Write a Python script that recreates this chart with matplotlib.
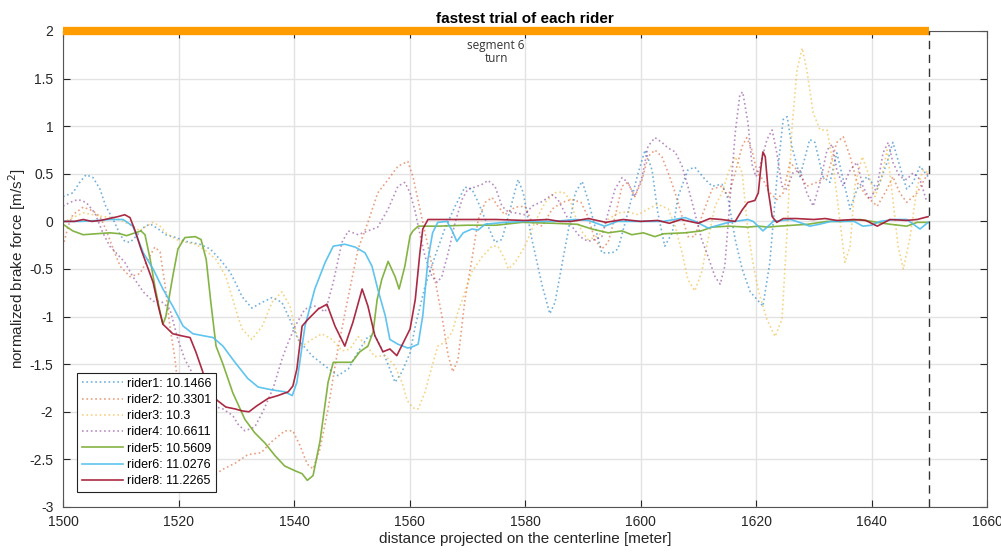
import matplotlib
matplotlib.use("Agg")
import matplotlib.pyplot as plt

plt.rcParams['font.family'] = ['Liberation Sans', 'DejaVu Sans']

# ---------------- data ----------------
labels = ["rider1: 10.1466", "rider2: 10.3301", "rider3: 10.3", "rider4: 10.6611",
          "rider5: 10.5609", "rider6: 11.0276", "rider8: 11.2265"]

rider1 = [(1500,0.26),(1501.7,0.30),(1502.9,0.41),(1504,0.49),(1505.2,0.46),(1506.4,0.34),(1507.4,0.16),
          (1508.7,0.02),(1509.9,-0.14),(1510.7,-0.21),(1511.6,-0.22),(1512.6,-0.16),(1514.2,-0.05),(1515.2,-0.03),
          (1516.5,-0.08),(1517.8,-0.14),(1519.6,-0.17),(1521.3,-0.21),(1523.7,-0.24),(1525.5,-0.29),(1527.2,-0.40),
          (1528.9,-0.53),(1530,-0.66),(1531,-0.79),(1532.7,-0.91),(1534.5,-0.85),(1536.2,-0.80),(1537.9,-0.85),
          (1539.3,-1.03),(1540.7,-1.24),(1543.1,-1.41),(1545.4,-1.52),(1547.6,-1.62),(1549.4,-1.55),(1551.1,-1.37),
          (1552.8,-1.21),(1554,-1.20),(1555.2,-1.34),(1556.6,-1.55),(1557.5,-1.69),(1558.7,-1.58),(1560.1,-1.38),
          (1561,-1.10),(1562.7,-0.68),(1564.4,-0.37),(1566.1,-0.08),(1567.9,0.16),(1569.6,0.36),(1570.8,0.34),
          (1571.9,0.20),(1573.6,-0.05),(1574.8,-0.22),(1576,-0.19),(1577.1,0.05),(1578.8,0.44),(1579.7,0.30),
          (1581.2,-0.19),(1583,-0.68),(1584.3,-0.97),(1585.2,-0.85),(1586.9,-0.29),(1588.7,0.30),(1589.9,0.42),
          (1590.9,0.23),(1592.1,-0.05),(1593.3,-0.33),(1595.1,-0.33),(1596.1,-0.29),(1597.8,0.09),(1599.6,0.51),
          (1600.8,0.75),(1602,0.54),(1603,0.09),(1604.2,-0.26),(1605.5,-0.12),(1606.5,0.26),(1608.2,0.54),
          (1609.4,0.57),(1611.2,0.44),(1612.4,0.37),(1614.1,0.39),(1615.2,0.23),(1616.4,-0.19),(1617.6,-0.50),
          (1619,-0.74),(1621.2,-0.89),(1622.4,-0.43),(1623.6,0.44),(1624.7,1.07),(1625.4,1.10),(1626.2,0.79),
          (1627.6,0.47),(1629.3,0.86),(1630.2,0.83),(1631.6,0.47),(1632.8,0.41),(1634,0.72),(1635.1,0.44),
          (1636.3,0.13),(1637.5,0.34),(1639.2,0.47),(1641,0.34),(1642.7,0.62),(1643.7,0.83),(1644.9,0.58),
          (1646.1,0.34),(1647.2,0.41),(1648.4,0.58),(1649.8,0.47)]

rider2 = [(1500,-0.26),(1500.9,-0.05),(1501.7,0.07),(1503.5,0.15),(1505.2,0.11),(1506.4,0.05),(1507.4,-0.08),
          (1508.7,-0.29),(1509.9,-0.47),(1511.6,-0.58),(1513.3,-0.55),(1514.7,-0.40),(1515.9,-0.27),(1516.8,-0.32),
          (1517.7,-0.68),(1518.5,-1.10),(1519.4,-1.45),(1520.4,-2.0),(1521.5,-2.5),(1522.8,-2.8),(1524.3,-2.78),
          (1526,-2.67),(1527.8,-2.60),(1529.8,-2.54),(1532,-2.45),(1534.3,-2.43),(1536.2,-2.31),(1538.4,-2.20),
          (1539.8,-2.20),(1541,-2.35),(1542.3,-2.55),(1543.3,-2.60),(1544.5,-2.39),(1545.9,-1.97),(1547.6,-1.34),
          (1549.4,-0.79),(1551.1,-0.29),(1552.8,-0.01),(1554.5,0.30),(1556.3,0.44),(1558,0.58),(1559.7,0.63),
          (1560.6,0.47),(1561.8,0.13),(1563.2,-0.26),(1564.4,-0.61),(1565.6,-0.99),(1566.7,-1.41),(1567.5,-1.58),
          (1568.4,-1.45),(1569.6,-0.82),(1570.8,-0.40),(1571.9,0.02),(1573.1,0.20),(1574.3,0.25),(1575.3,0.16),
          (1576.5,0.07),(1578.3,0.15),(1580,0.16),(1581.2,-0.01),(1583,-0.05),(1584.7,0.13),(1586.4,0.20),
          (1588.1,0.23),(1589.7,0.20),(1590.9,0.05),(1592.1,-0.19),(1593.3,-0.29),(1594.4,-0.22),(1595.6,0.05),
          (1596.8,0.37),(1597.8,0.41),(1599,0.26),(1600.3,0.44),(1601.3,0.68),(1602.5,0.75),(1603.7,0.68),
          (1604.8,0.51),(1606,0.30),(1607.2,0.05),(1608.2,-0.16),(1609.4,-0.16),(1610.6,0.05),(1612.4,0.34),
          (1614.1,0.37),(1615.2,0.26),(1616.4,0.51),(1617.6,0.79),(1618.4,0.88),(1619.3,0.75),(1620.2,0.51),
          (1621.2,0.44),(1622.4,0.30),(1623.6,0.23),(1624.7,0.30),(1625.9,0.62),(1627.1,0.54),(1628.8,0.37),
          (1630.5,0.41),(1632.3,0.47),(1634,0.83),(1635.1,0.89),(1636.3,0.68),(1637.5,0.41),(1639.2,0.26),
          (1641,0.16),(1642.7,0.34),(1643.7,0.47),(1644.9,0.30),(1646.1,0.20),(1647.9,0.30),(1649.8,0.51)]

rider3 = [(1500,-0.01),(1501.7,0.04),(1503.5,0.09),(1505.2,0.07),(1506.9,0.05),(1508.7,0.04),(1510.4,0.0),
          (1512.1,-0.05),(1513.3,-0.10),(1514.4,-0.05),(1515.6,-0.01),(1516.8,-0.05),(1517.8,-0.12),(1519.6,-0.19),
          (1521.3,-0.22),(1523,-0.24),(1524.8,-0.31),(1526.5,-0.40),(1528.2,-0.58),(1529.4,-0.82),(1530.3,-1.0),
          (1531,-1.13),(1532.7,-1.24),(1534.5,-1.10),(1536.2,-0.85),(1537.9,-0.74),(1539.3,-0.89),(1540.5,-1.20),
          (1541.4,-1.31),(1543.1,-1.24),(1544.8,-1.18),(1546.6,-1.24),(1548.3,-1.36),(1549.7,-1.34),(1551.1,-1.21),
          (1552.6,-1.31),(1554,-1.42),(1555.8,-1.41),(1557.5,-1.52),(1558.7,-1.69),(1559.6,-1.88),(1560.6,-1.96),
          (1561.5,-1.97),(1562.7,-1.79),(1563.9,-1.52),(1564.9,-1.31),(1566.1,-1.27),(1567.4,-1.16),(1568.4,-0.95),
          (1569.6,-0.74),(1570.8,-0.53),(1572.6,-0.37),(1574.3,-0.26),(1575.3,-0.26),(1576.5,-0.40),(1577.1,-0.50),
          (1578.3,-0.43),(1580,-0.26),(1581.7,-0.01),(1583.5,0.20),(1585.2,0.30),(1586.6,0.31),(1587.8,0.23),
          (1589,0.0),(1590,-0.12),(1590.9,-0.19),(1592.1,-0.17),(1593.3,-0.12),(1594.4,0.02),(1596.1,0.09),
          (1597.8,0.10),(1599.6,0.07),(1601.3,0.13),(1603,0.18),(1604.8,0.13),(1606,-0.05),(1607.2,-0.33),
          (1608.2,-0.61),(1609.4,-0.73),(1610.6,-0.53),(1611.7,-0.19),(1612.9,0.16),(1614.1,0.30),(1615.2,0.51),
          (1616.4,0.68),(1617.6,0.51),(1618.6,-0.10),(1619.5,-0.45),(1620.5,-0.75),(1621.9,-1.03),(1623.3,-1.21),
          (1624.5,-1.03),(1625.4,-0.08),(1626.2,0.96),(1627.1,1.59),(1628,1.82),(1628.8,1.59),(1629.9,1.14),
          (1631.1,0.96),(1632.3,0.96),(1633.3,0.62),(1634.5,0.02),(1635.4,-0.43),(1636.3,-0.26),(1637.1,0.37),
          (1638.4,0.68),(1639.4,0.51),(1640.6,0.26),(1641.8,0.47),(1642.7,0.75),(1643.5,0.34),(1644.6,-0.26),
          (1645.5,-0.50),(1646.7,-0.16),(1647.9,0.37),(1649,0.54),(1649.8,0.51)]

rider4 = [(1500,0.16),(1501.2,0.20),(1502.6,0.23),(1504,0.20),(1505.5,0.09),(1506.9,-0.12),(1508.1,-0.26),
          (1509.2,-0.33),(1510.7,-0.43),(1512.1,-0.58),(1513.9,-0.74),(1515.6,-0.84),(1517,-0.84),(1518.5,-0.92),
          (1519.9,-1.24),(1521.1,-1.45),(1522.9,-1.65),(1524.2,-1.83),(1526,-1.94),(1527.7,-1.97),(1529.4,-2.04),
          (1530.3,-2.13),(1531.5,-2.20),(1533.2,-2.16),(1534.6,-2.0),(1536.4,-1.75),(1537.9,-1.45),(1538.8,-1.30),
          (1540.2,-1.10),(1541.9,-0.92),(1543.6,-0.89),(1545.4,-0.95),(1546.8,-0.64),(1548.3,-0.22),(1549.4,-0.10),
          (1551.1,-0.14),(1552.8,-0.10),(1554.5,-0.06),(1556.3,0.13),(1558,0.37),(1559.2,0.41),(1560.1,0.30),
          (1561,0.10),(1561.5,-0.05),(1562.7,-0.37),(1563.9,-0.58),(1564.8,-0.64),(1565.6,-0.58),(1566.7,-0.33),
          (1567.9,-0.01),(1569.1,0.23),(1570.1,0.34),(1571.3,0.36),(1572.6,0.39),(1573.6,0.43),(1574.8,0.37),
          (1576,0.16),(1577.1,0.10),(1578.3,0.09),(1580,0.07),(1581.2,0.16),(1583,0.21),(1584.7,0.28),
          (1585.7,0.23),(1586.9,0.09),(1588.1,-0.05),(1589.5,-0.16),(1590.9,-0.21),(1592.1,-0.19),(1593.3,-0.16),
          (1594.4,0.09),(1595.6,0.34),(1596.8,0.46),(1597.8,0.41),(1599,0.26),(1600.3,0.47),(1601.3,0.79),
          (1602.5,0.88),(1603.7,0.83),(1604.8,0.77),(1606,0.73),(1607.2,0.58),(1608.2,0.37),(1609.4,0.09),
          (1610.6,-0.19),(1611.7,-0.37),(1612.9,-0.58),(1613.8,-0.66),(1614.6,-0.47),(1615.5,0.23),(1616.4,0.93),
          (1617.2,1.33),(1617.7,1.36),(1618.6,1.04),(1619.3,0.60),(1620,0.47),(1620.7,0.58),(1621.9,0.86),
          (1622.8,0.96),(1623.6,0.72),(1624.5,0.37),(1625.3,0.34),(1626.4,0.51),(1627.6,0.54),(1628.8,0.30),
          (1629.9,0.16),(1631.1,0.41),(1632.3,0.75),(1633.2,0.81),(1634,0.54),(1635.1,0.37),(1636.3,0.54),
          (1637.5,0.62),(1638.5,0.37),(1639.7,0.23),(1641,0.37),(1642,0.72),(1642.9,0.83),(1643.7,0.62),
          (1644.9,0.47),(1646.1,0.44),(1647.2,0.51),(1648.4,0.44),(1649.6,0.20)]

rider5 = [(1500,-0.03),(1501.7,-0.10),(1503.5,-0.14),(1505.7,-0.13),(1508.1,-0.12),(1509.9,-0.13),(1511,-0.15),
          (1512.5,-0.12),(1513.5,-0.10),(1514.2,-0.14),(1515.1,-0.40),(1515.9,-0.68),(1516.8,-0.95),(1517.3,-1.08),
          (1517.8,-1.0),(1519,-0.58),(1519.9,-0.29),(1521.1,-0.17),(1522.9,-0.16),(1523.9,-0.19),(1524.8,-0.40),
          (1525.6,-0.85),(1526.5,-1.31),(1527.7,-1.50),(1529.4,-1.80),(1530.3,-1.92),(1531.5,-2.08),(1533.2,-2.22),
          (1535,-2.33),(1536.7,-2.46),(1538.4,-2.57),(1540.2,-2.62),(1541.4,-2.65),(1542.3,-2.72),(1543.3,-2.67),
          (1544.5,-2.31),(1545.9,-1.69),(1546.8,-1.48),(1548.8,-1.48),(1550,-1.48),(1551.4,-1.37),(1552.8,-1.31),
          (1553.7,-1.16),(1554.4,-0.82),(1555.2,-0.61),(1556.3,-0.42),(1557.5,-0.58),(1558.2,-0.71),(1559.2,-0.47),
          (1560.1,-0.15),(1560.6,-0.10),(1561.5,-0.05),(1565,-0.05),(1570,-0.04),(1575,-0.04),(1579.5,-0.01),
          (1585,-0.02),(1589,-0.03),(1591.6,-0.08),(1594.4,-0.12),(1596.8,-0.10),(1598.5,-0.14),(1600.5,-0.12),
          (1602.5,-0.16),(1604,-0.13),(1607.7,-0.12),(1610.5,-0.10),(1612.4,-0.06),(1615.2,-0.05),(1618.6,-0.06),
          (1620.5,-0.05),(1622,-0.06),(1624,-0.05),(1629,-0.03),(1632.3,0.0),(1635,0.0),(1638,0.02),(1641,-0.01),
          (1643.2,-0.03),(1646.1,-0.05),(1647.9,-0.01),(1649.8,-0.01)]

rider6 = [(1500,0.0),(1503,0.0),(1506,0.01),(1508,0.02),(1510.4,0.02),(1512.1,-0.05),(1513.9,-0.33),
          (1515.6,-0.50),(1517.3,-0.71),(1519,-0.89),(1520.8,-1.10),(1522.5,-1.18),(1524.2,-1.20),(1526,-1.22),
          (1527.7,-1.31),(1529.4,-1.45),(1530.3,-1.52),(1532,-1.65),(1533.8,-1.74),(1536.2,-1.77),(1538.4,-1.79),
          (1539.7,-1.83),(1540.5,-1.69),(1541.9,-1.10),(1543.6,-0.71),(1545.4,-0.43),(1546.8,-0.26),(1548.8,-0.24),
          (1550.6,-0.27),(1552.3,-0.33),(1553.5,-0.47),(1554.5,-0.71),(1555.8,-0.99),(1556.6,-1.24),(1558,-1.29),
          (1559.7,-1.33),(1560.4,-1.32),(1561.5,-1.29),(1562.3,-0.99),(1563.2,-0.40),(1564,-0.12),(1564.9,-0.01),
          (1566.5,0.0),(1567.4,-0.10),(1568.2,-0.21),(1569.3,-0.12),(1570.8,-0.08),(1571.9,-0.09),(1573.1,-0.03),
          (1576.5,-0.01),(1580,0.0),(1585,0.0),(1588.7,0.02),(1591,0.01),(1593.8,-0.05),(1596,0.0),(1600,0.0),
          (1604,0.0),(1607.7,0.04),(1609.5,0.0),(1611.7,-0.07),(1613.5,-0.04),(1615.2,-0.01),(1618.6,0.02),
          (1619.5,0.0),(1621.2,-0.10),(1623,0.0),(1626,0.02),(1628,-0.02),(1629.3,-0.05),(1631,-0.03),(1633,0.0),
          (1637,0.0),(1638.5,-0.05),(1640,-0.04),(1641.5,0.0),(1644,0.02),(1646.1,0.02),(1648.4,-0.08),
          (1649.8,-0.01)]

rider8 = [(1500,0.0),(1502,0.0),(1503.5,0.02),(1505,0.0),(1506.5,0.01),(1508,0.03),(1509.5,0.05),
          (1510.7,0.07),(1511.6,0.04),(1512.5,-0.10),(1513.5,-0.29),(1515.6,-0.64),(1516.5,-0.89),(1517.3,-1.08),
          (1519,-1.18),(1520.4,-1.20),(1522,-1.22),(1523,-1.37),(1524.2,-1.58),(1524.8,-1.75),(1526.7,-1.88),
          (1528.2,-1.95),(1529.8,-1.97),(1531,-1.99),(1532.2,-2.0),(1533.5,-1.94),(1535.5,-1.86),(1537.2,-1.83),
          (1539,-1.79),(1539.8,-1.73),(1540.5,-1.55),(1541.4,-1.10),(1542.4,-1.03),(1544.2,-0.92),(1545.7,-0.87),
          (1547.1,-1.10),(1548.8,-1.31),(1550.2,-1.06),(1551.8,-0.71),(1552.8,-0.89),(1554,-1.20),(1555.4,-1.37),
          (1556.6,-1.34),(1557.8,-1.41),(1559.2,-1.24),(1560.1,-1.13),(1561,-0.82),(1561.8,-0.33),(1562.3,-0.08),
          (1563.2,0.02),(1566,0.02),(1570,0.02),(1575,0.02),(1580,0.01),(1584,0.02),(1586,0.0),(1588,0.0),
          (1591,0.03),(1594,-0.01),(1597,0.02),(1600,0.0),(1603,0.01),(1605,-0.02),(1607,0.02),(1610,-0.02),
          (1612,0.03),(1614,0.02),(1616.4,0.0),(1617.6,0.12),(1618.6,0.20),(1619.8,0.22),(1620.4,0.30),
          (1620.8,0.54),(1621.2,0.73),(1621.6,0.68),(1622.1,0.33),(1622.8,0.05),(1623.6,-0.01),(1624.7,0.03),
          (1627,0.03),(1630,0.02),(1632,0.03),(1634,0.01),(1637,0.02),(1639,0.01),(1641,-0.05),(1643.2,0.02),
          (1646,0.01),(1647.9,0.02),(1649.8,0.05)]

series = [rider1, rider2, rider3, rider4, rider5, rider6, rider8]
colors = ['#0072BD', '#D95319', '#EDB120', '#7E2F8E', '#77AC30', '#4DBEEE', '#A2142F']
styles = [':', ':', ':', ':', '-', '-', '-']

segment_start, segment_end = 1500, 1650
segment_label = "segment 6\nturn"

# ---------------- plot ----------------
fig = plt.figure(figsize=(10.01, 5.52), dpi=100)
ax = fig.add_axes([63/1001, 45/552, 924/1001, 476/552])

for data, c, ls, lab in zip(series, colors, styles, labels):
    xs = [p[0] for p in data]
    ys = [p[1] for p in data]
    if ls == ':':
        ax.plot(xs, ys, linestyle=':', color=c, lw=1.2, alpha=0.55, label=lab)
    else:
        ax.plot(xs, ys, linestyle='-', color=c, lw=1.2, alpha=0.9, label=lab)

ax.set_xlim(1500, 1660)
ax.set_ylim(-3, 2)
ax.set_xticks(range(1500, 1661, 20))
ax.set_yticks([-3, -2.5, -2, -1.5, -1, -0.5, 0, 0.5, 1, 1.5, 2])
ax.set_yticklabels(['-3', '-2.5', '-2', '-1.5', '-1', '-0.5', '0', '0.5', '1', '1.5', '2'])

ax.grid(True, color='#e3e3e3', lw=1.0)
ax.set_axisbelow(True)
ax.tick_params(direction='in', length=5, top=True, right=True, labelsize=10,
               colors='#262626', width=0.8)
ax.tick_params(axis='x', pad=6)
ax.tick_params(axis='y', pad=7)
for s in ax.spines.values():
    s.set_color('#555555')
    s.set_linewidth(0.8)

# segment marker
ax.plot([segment_start, segment_end], [2, 2], color='#FF9C00', lw=6, solid_capstyle='butt',
        clip_on=False, zorder=5)
ax.plot([segment_end, segment_end], [-3, 2], color='#333333', lw=1.0, ls=(0, (6, 4)), zorder=5)
ax.text((segment_start + segment_end) / 2, 1.78, segment_label, ha='center', va='center',
        fontsize=8.5, color='#333333', family=['Open Sans', 'DejaVu Sans'], linespacing=1.0)

ax.set_title("fastest trial of each rider", fontsize=11, fontweight='bold', pad=6)
ax.set_xlabel("distance projected on the centerline [meter]", fontsize=11, color='#262626', labelpad=2)
ax.set_ylabel("normalized brake force [m/s$^2$]", fontsize=11, color='#262626', labelpad=1)

leg = ax.legend(loc='lower left', bbox_to_anchor=(0.015, 0.031), borderaxespad=0,
                fontsize=9, frameon=True, fancybox=False, edgecolor='#222222',
                framealpha=1, handlelength=3.3, labelspacing=0.34, borderpad=0.4,
                handletextpad=0.3)
leg.get_frame().set_linewidth(0.8)

fig.savefig("out.png", dpi=100)
